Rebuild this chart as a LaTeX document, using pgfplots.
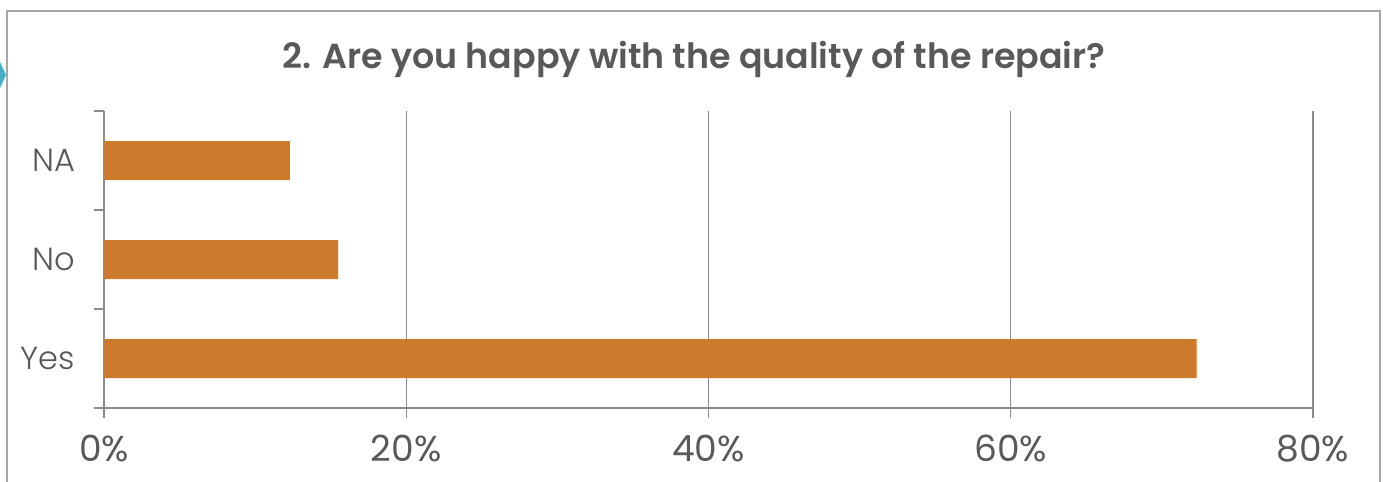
\documentclass[border=0pt]{standalone}
\usepackage{fontspec}
\setmainfont{Poppins}
\IfFontExistsTF{Poppins Light}{\newfontfamily\lightfont{Poppins Light}}{\newfontfamily\lightfont{Poppins}}
\IfFontExistsTF{Poppins SemiBold}{\newfontfamily\titlefont{Poppins SemiBold}}{\newfontfamily\titlefont{Poppins}[FakeBold=1]}
\usepackage{pgfplots}
\pgfplotsset{compat=1.18}
\definecolor{barorange}{HTML}{CC7A2C}
\definecolor{txtgray}{HTML}{595959}
\definecolor{axgray}{HTML}{8C8C8C}
\definecolor{framegray}{HTML}{A6A6A6}
\definecolor{arrowblue}{HTML}{4BACC6}
\begin{document}
\begin{tikzpicture}[x=1pt,y=1pt]
\path[use as bounding box] (-52,-37) rectangle (639.5,204);
\draw[framegray, line width=1pt] (-48.5,-40) -- (-48.5,198.5) -- (638,198.5) -- (638,-40);
\fill[arrowblue] (-52,173) -- (-49,166.5) -- (-52,160) -- cycle;
\begin{axis}[
  at={(0,0)}, anchor=origin,
  scale only axis,
  width=604.5pt, height=148.5pt,
  xmin=0, xmax=80, ymin=0.5, ymax=3.5,
  axis lines=left,
  axis line style={axgray, line width=0.6pt, -},
  xbar, bar width=19.5pt,
  xtick={0,20,40,60,80},
  xticklabels={0\%,20\%,40\%,60\%,80\%},
  xmajorgrids, grid style={axgray, line width=0.6pt},
  ytick={1,2,3},
  yticklabels={Yes,No,NA},
  minor ytick={0.5,1.5,2.5,3.5},
  tick align=outside,
  major tick length=5pt, minor tick length=5pt,
  y tick style={draw=none},
  minor y tick style={draw=axgray, line width=0.6pt},
  x tick style={draw=axgray, line width=0.6pt},
  xticklabel style={font=\fontsize{18}{18}\selectfont, text=txtgray, anchor=base, yshift=-22pt},
  yticklabel style={font=\lightfont\fontsize{16}{16}\selectfont, text=txtgray, anchor=east, xshift=-6pt},
  clip=false,
]
\addplot[fill=barorange, draw=none] coordinates {(72.3,1) (15.5,2) (12.3,3)};
\end{axis}
\node[anchor=base, text=txtgray, font=\titlefont\fontsize{17.4}{17.4}\selectfont] at (295,169.5) {2. Are you happy with the quality of the repair?};
\end{tikzpicture}
\end{document}
